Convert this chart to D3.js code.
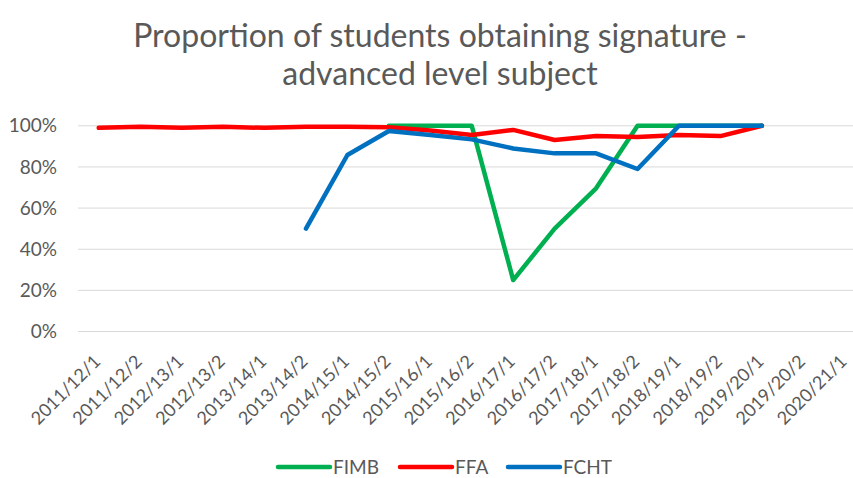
<!DOCTYPE html>
<html>
<head>
<meta charset="utf-8">
<script src="https://cdn.jsdelivr.net/npm/d3@7"></script>
<style>
  html, body { margin: 0; padding: 0; background: #fff; overflow: hidden; }
  svg { display: block; font-family: Lato, "Open Sans", sans-serif; }
</style>
</head>
<body>
<div id="plot"></div>
<script>
    const categories = ["2011/12/1", "2011/12/2", "2012/13/1", "2012/13/2", "2013/14/1", "2013/14/2",
      "2014/15/1", "2014/15/2", "2015/16/1", "2015/16/2", "2016/17/1", "2016/17/2", "2017/18/1",
      "2017/18/2", "2018/19/1", "2018/19/2", "2019/20/1", "2019/20/2", "2020/21/1"];

    // null = no value for that term
    const fimb = [null, null, null, null, null, null, null, 1.00, 1.00, 1.00, 0.25, 0.50, 0.696, 1.00, 1.00, 1.00, 1.00, null, null];
    const ffa = [0.99, 0.995, 0.99, 0.995, 0.99, 0.995, 0.995, 0.993, 0.977, 0.955, 0.98, 0.931, 0.95, 0.945, 0.955, 0.95, 1.00, null, null];
    const fcht = [null, null, null, null, null, 0.50, 0.858, 0.975, 0.955, 0.934, 0.89, 0.866, 0.866, 0.79, 1.00, 1.00, 1.00, null, null];

    const yTicks = [0, 0.2, 0.4, 0.6, 0.8, 1.0];

    const series = [
      { name: "FIMB", values: fimb, color: "#00B050" },
      { name: "FFA", values: ffa, color: "#FF0000" },
      { name: "FCHT", values: fcht, color: "#0070C0" },
    ];

    const W = 853, H = 478;
    const plotLeft = 78, plotRight = 865.5, plotTop = 125.8, plotBottom = 331.5;

    const svg = d3.select("div#plot")
      .append("svg")
        .attr("width", W)
        .attr("height", H);

    const xScale = d3.scaleBand()
      .domain(categories)
      .range([plotLeft, plotRight]);

    const yScale = d3.scaleLinear()
      .domain([0, 1])
      .range([plotBottom, plotTop]);

    const cx = d => xScale(d) + xScale.bandwidth() / 2;

    // title
    const title = svg.append("text")
      .attr("text-anchor", "middle")
      .style("font-size", "32px")
      .attr("fill", "#595959");
    title.append("tspan").attr("x", 440).attr("y", 47).text("Proportion of students obtaining signature -");
    title.append("tspan").attr("x", 440).attr("y", 85).text("advanced level subject");

    // gridlines
    svg.append("g")
      .selectAll("line")
      .data(yTicks)
      .enter()
      .append("line")
        .attr("x1", plotLeft)
        .attr("x2", plotRight)
        .attr("y1", d => yScale(d))
        .attr("y2", d => yScale(d))
        .attr("stroke", "#d9d9d9")
        .attr("stroke-width", 1);

    // y axis labels
    const yAxis = d3.axisLeft(yScale)
      .tickValues(yTicks)
      .tickFormat(d3.format(".0%"))
      .tickSize(0)
      .tickPadding(21);

    svg.append("g")
      .attr("transform", `translate(${plotLeft}, 0)`)
      .call(yAxis)
      .call(g => g.select(".domain").remove())
      .selectAll("text")
        .attr("fill", "#595959")
        .style("font-size", "19px")
        .style("font-family", "Lato, 'Open Sans', sans-serif");

    // x axis labels
    const xAxis = d3.axisBottom(xScale)
      .tickSize(0)
      .tickPadding(0);

    svg.append("g")
      .attr("transform", `translate(0, ${plotBottom})`)
      .call(xAxis)
      .call(g => g.select(".domain").remove())
      .selectAll("text")
        .attr("fill", "#595959")
        .style("font-size", "18px")
        .style("font-family", "Lato, 'Open Sans', sans-serif")
        .attr("dy", "0")
        .attr("text-anchor", "end")
        .attr("transform", "translate(3, 31) rotate(-45)");

    // lines
    const line = d3.line()
      .defined(d => d.v !== null)
      .x(d => cx(d.c))
      .y(d => yScale(d.v));

    svg.selectAll(".series")
      .data(series)
      .enter()
      .append("path")
        .attr("class", "series")
        .attr("fill", "none")
        .attr("stroke", d => d.color)
        .attr("stroke-width", 4.5)
        .attr("stroke-linejoin", "round")
        .attr("stroke-linecap", "round")
        .attr("d", d => line(d.values.map((v, i) => ({ c: categories[i], v: v }))));

    // legend
    const legendX = [278, 400, 508];
    const key = svg.append("g");
    series.forEach((s, i) => {
      key.append("line")
        .attr("x1", legendX[i])
        .attr("x2", legendX[i] + 52)
        .attr("y1", 467)
        .attr("y2", 467)
        .attr("stroke", s.color)
        .attr("stroke-width", 4.5)
        .attr("stroke-linecap", "round");
      key.append("text")
        .attr("x", legendX[i] + 55)
        .attr("y", 473.5)
        .attr("fill", "#595959")
        .style("font-size", "19px")
        .text(s.name);
    });
</script>
</body>
</html>
